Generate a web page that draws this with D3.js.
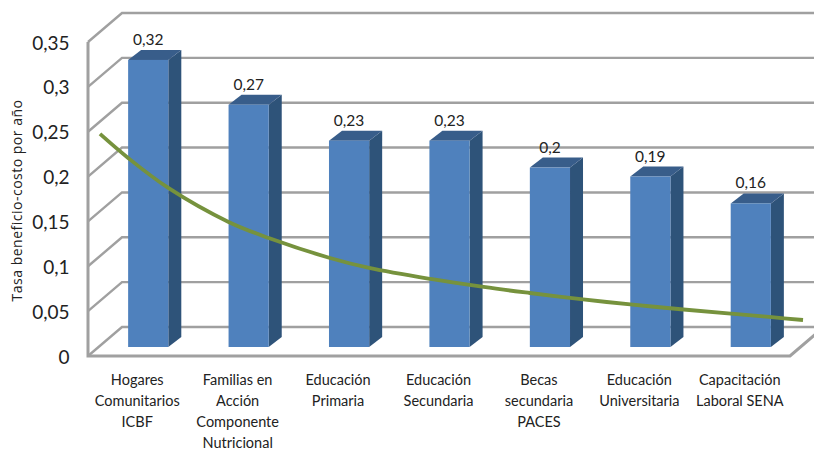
<!DOCTYPE html>
<html lang="es">
<head>
<meta charset="utf-8">
<script src="https://cdn.jsdelivr.net/npm/d3@7"></script>
<style>
html,body{margin:0;padding:0;background:#fff}
svg{display:block}
text{font-family:Lato,"Open Sans",sans-serif;fill:#222}
</style>
</head>
<body>
<svg id="chart" width="814" height="450"></svg>
<script>
const categories = ["Hogares Comunitarios ICBF","Familias en Acción Componente Nutricional","Educación Primaria","Educación Secundaria","Becas secundaria PACES","Educación Universitaria","Capacitación Laboral SENA"];
const categoryLines = [["Hogares","Comunitarios","ICBF"],["Familias en","Acción","Componente","Nutricional"],["Educación","Primaria"],["Educación","Secundaria"],["Becas","secundaria","PACES"],["Educación","Universitaria"],["Capacitación","Laboral SENA"]];
const values = [0.32,0.27,0.23,0.23,0.2,0.19,0.16];
const tickValues = [0,0.05,0.1,0.15,0.2,0.25,0.3,0.35];
// trend curve: position in category units (0 = first category), value
const trendPos = [-0.48,-0.2,0.2,0.8,1.2,1.81,2.2,2.81,3.34,3.8,4.33,4.8,5.33,5.8,6.21,6.52];
const trendVal = [0.2375,0.2107,0.1773,0.1394,0.1215,0.0992,0.0881,0.0758,0.0669,0.0602,0.0530,0.0475,0.0418,0.0372,0.0332,0.0301];
const yTitle = "Tasa beneficio-costo por año";

const W = 814, H = 450;
const svg = d3.select("#chart");
const defs = svg.append("defs");
defs.append("filter").attr("id","soft").append("feGaussianBlur").attr("stdDeviation",0.45);
const marks = svg.append("g").attr("filter","url(#soft)");
const wallDx = 34, wallDy = -29, barDx = 13, barDy = -10, barLift = -9;
const plotLeft = 88, floorRight = 790;

const y = d3.scaleLinear().domain([0,0.35]).range([356,42]);
const x = d3.scaleBand().domain(categories).range([98,801]).paddingInner(0.6).paddingOuter(0.3);
const xPos = d3.scaleLinear().domain([0,1]).range([x(categories[0])+x.bandwidth()/2, x(categories[1])+x.bandwidth()/2]);
const fmt = d => String(d).replace(".",",");
const gridColor = "#a0a0a0";

// walls
const grid = marks.append("g").attr("fill","none").attr("stroke",gridColor).attr("stroke-width",2.4);
grid.selectAll("path.g").data(tickValues).join("path").attr("class","g")
  .attr("d", d => d3.line()([[plotLeft,y(d)],[plotLeft+wallDx,y(d)+wallDy],[W+5,y(d)+wallDy]]));
grid.append("path").attr("d", d3.line()([[plotLeft,y(0.35)],[plotLeft,y(0)],[floorRight,y(0)],[floorRight+wallDx,y(0)+wallDy]]))
  .attr("stroke-width",3);

// bars
const yBar = v => y(v)+barLift;
const bars = marks.append("g").selectAll("g").data(values).join("g");
const bx = (d,i) => x(categories[i]);
const bw = x.bandwidth();
bars.append("path").attr("fill","#2f5279").attr("d",(d,i)=>d3.line()([
  [bx(d,i)+bw,yBar(d)],[bx(d,i)+bw+barDx,yBar(d)+barDy],[bx(d,i)+bw+barDx,yBar(0)+barDy],[bx(d,i)+bw,yBar(0)]])+"Z");
bars.append("path").attr("fill","#385d8a").attr("d",(d,i)=>d3.line()([
  [bx(d,i),yBar(d)],[bx(d,i)+barDx,yBar(d)+barDy],[bx(d,i)+bw+barDx,yBar(d)+barDy],[bx(d,i)+bw,yBar(d)]])+"Z");
bars.append("rect").attr("fill","#4f81bd")
  .attr("x",bx).attr("y",d=>yBar(d)).attr("width",bw).attr("height",d=>yBar(0)-yBar(d));

// trend
marks.append("path").datum(trendPos.map((p,i)=>[p,trendVal[i]]))
  .attr("fill","none").attr("stroke","#76923c").attr("stroke-width",3.8)
  .attr("d",d3.line().x(d=>xPos(d[0])).y(d=>yBar(d[1])).curve(d3.curveCatmullRom));

// data labels
svg.append("g").selectAll("text").data(values).join("text").attr("text-anchor","middle").attr("font-size",15.5)
  .attr("x",(d,i)=>bx(d,i)+bw/2).attr("y",d=>yBar(d)+barDy-5).text(fmt);

// y axis
const yAxis = svg.append("g").attr("transform",`translate(69.5,1)`)
  .call(d3.axisLeft(y).tickValues(tickValues).tickSize(0).tickPadding(0).tickFormat(fmt));
yAxis.select(".domain").remove();
yAxis.selectAll("text").attr("font-size",19).style("font-family","Lato,sans-serif").attr("fill","#222");

// x axis
const xAxis = svg.append("g").attr("transform","translate(-11,367)")
  .call(d3.axisBottom(x).tickSize(0).tickFormat(""));
xAxis.select(".domain").remove();
xAxis.selectAll(".tick").each(function(d,i){
  const t = d3.select(this).select("text").text(null).attr("font-size",14.5)
    .attr("text-anchor","middle").attr("y",0).attr("dy",0).style("font-family","Lato,sans-serif").attr("fill","#222");
  t.selectAll("tspan").data(categoryLines[i]).join("tspan")
    .attr("x",0).attr("y",(l,j)=>18+j*21).text(l=>l);
});

// title
svg.append("text").attr("transform","translate(22,200.5) rotate(-90)").attr("text-anchor","middle")
  .attr("font-size",14).attr("letter-spacing",0.5).style("font-family","'Open Sans',sans-serif").text(yTitle);
</script>
</body>
</html>
